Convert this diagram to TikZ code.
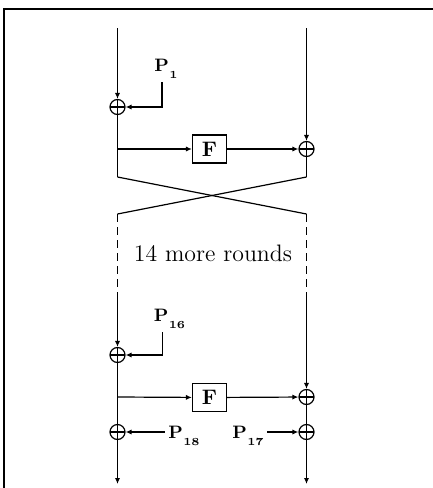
\documentclass[tikz,border=0pt]{standalone}
\usepackage{tikz}
\usepackage{amsmath}
\usetikzlibrary{arrows.meta}
\newcommand{\subkey}[1]{P\kern0.2pt\raisebox{-3.5pt}{\fontsize{5.4}{6}\selectfont #1}}

\begin{document}
\begin{tikzpicture}[
    x=0.5pt, y=-0.5pt,
    line width=0.6pt,
    xorop/.style={draw, circle, minimum size=7.5pt, inner sep=0pt,
                  path picture={\draw (path picture bounding box.north) -- (path picture bounding box.south)
                                      (path picture bounding box.west) -- (path picture bounding box.east);}},
    fbox/.style={draw, minimum width=17pt, minimum height=14pt, inner sep=0pt,
                 font=\fontsize{10.5}{12}\selectfont\bfseries},
    key/.style={inner sep=1.5pt, anchor=base, font=\fontsize{9}{10}\selectfont\bfseries},
    arr/.style={-{Latex[length=3pt, width=2.6pt]}},
  ]
    \useasboundingbox (0,0) rectangle (433,488);
    \draw[line width=1pt] (3.5,488) -- (3.5,9) -- (433,9);

    \coordinate (inL) at (117.5,28);
    \coordinate (inR) at (306.5,28);
    \node[xorop] (x1) at (117.5,107) {};
    \node[key] (p1) at (166,71.7) {\subkey{1}};
    \coordinate (b1) at (117.5,149);
    \node[fbox] (f1) at (209.5,149) {F};
    \node[xorop] (y1) at (306.5,149) {};

    \coordinate (cL1) at (117.5,177);
    \coordinate (cR1) at (306.5,177);
    \coordinate (cL2) at (117.5,214);
    \coordinate (cR2) at (306.5,214);
    \coordinate (dL) at (117.5,292);
    \coordinate (dR) at (306.5,292);
    \node[font=\fontsize{11.9}{14}\selectfont] (more) at (213,253) {14 more rounds};

    \node[xorop] (x16) at (117.5,355) {};
    \node[key] (p16) at (169.5,321.7) {\subkey{16}};
    \coordinate (b2) at (117.5,397);
    \node[fbox] (f2) at (209.5,397.5) {F};
    \node[xorop] (y2) at (306.5,397) {};
    \node[xorop] (x18) at (117.5,432) {};
    \node[xorop] (y17) at (306.5,432) {};
    \node[key] (p18) at (184,438) {\subkey{18}};
    \node[key] (p17) at (248,438) {\subkey{17}};
    \coordinate (outL) at (117.5,484);
    \coordinate (outR) at (306.5,484);

    \draw[arr] (inL) -- (x1);
    \draw[arr] ([xshift=-2pt]p1.south) |- (x1);
    \draw (x1) -- (cL1);
    \draw[arr] (b1) -- (f1);
    \draw[arr] (f1) -- (y1);
    \draw[arr] (inR) -- (y1);
    \draw (y1) -- (cR1);
    \draw (cL1) -- (cR2);
    \draw (cR1) -- (cL2);
    \draw[dash pattern=on 4pt off 2.5pt] (cL2) -- (dL);
    \draw[dash pattern=on 4pt off 2.5pt] (cR2) -- (dR);

    \draw[arr] (dL) -- (x16);
    \draw[arr] ([xshift=-3.5pt]p16.south) |- (x16);
    \draw (x16) -- (x18);
    \draw[arr] (b2) -- (f2);
    \draw[arr] (f2) -- (y2);
    \draw[arr] (dR) -- (y2);
    \draw (y2) -- (y17);
    \draw[arr] (x18 -| p18.west) -- (x18);
    \draw[arr] (y17 -| p17.east) -- (y17);
    \draw[arr] (x18) -- (outL);
    \draw[arr] (y17) -- (outR);
  \end{tikzpicture}
\end{document}
